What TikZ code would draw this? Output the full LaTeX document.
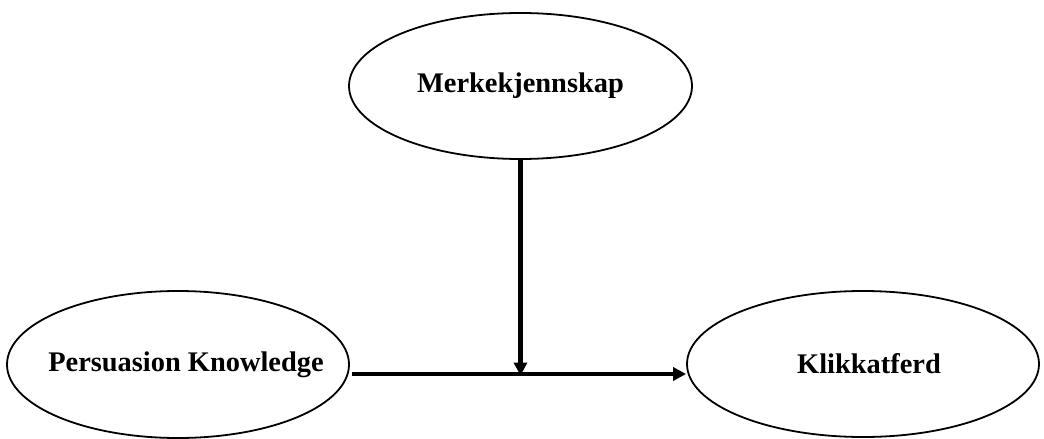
\documentclass[tikz,border=0pt]{standalone}
\usepackage{fontspec}
\setmainfont{Liberation Serif}
\usetikzlibrary{shapes.geometric,arrows.meta}
\tikzset{
  concept/.style={draw, line width=1.8pt, ellipse, inner sep=0pt, font=\fontsize{28.4}{32}\selectfont\bfseries},
  link/.style={line width=4.4pt, -{Triangle[length=13pt,width=13pt]}}
}
\begin{document}
\begin{tikzpicture}[x=1pt,y=-1pt]
\useasboundingbox (0,0) rectangle (1044,439);
\node[concept, minimum width=343pt, minimum height=146pt] (MK) at (520.5,86) {\makebox[0pt]{Merkekjennskap}};
\node[concept, minimum width=342pt, minimum height=147pt] (PK) at (178,364.5) {\makebox[0pt]{\hspace*{16pt}Persuasion Knowledge}};
\node[concept, minimum width=352pt, minimum height=146pt] (KL) at (863,364) {\makebox[0pt]{\hspace*{12pt}Klikkatferd}};
\coordinate (h) at (0,374);
\draw[link] ([xshift=2pt]PK.east |- h) -- (KL.west |- h);
\draw[link] (MK.south) -- ([yshift=-1.5pt]MK.south |- h);
\end{tikzpicture}
\end{document}
